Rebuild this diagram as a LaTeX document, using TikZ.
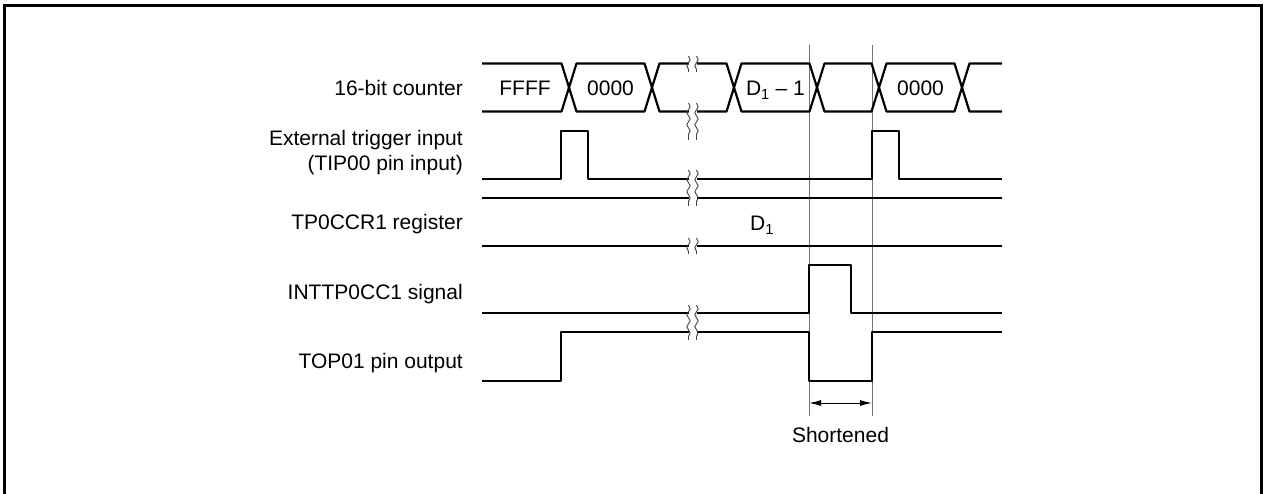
\documentclass[tikz,border=0pt]{standalone}
\usepackage{fontspec}
\setmainfont{Liberation Sans}
\usepackage{tikz}
\usetikzlibrary{arrows.meta, positioning, decorations.pathmorphing}
\tikzset{
    wave/.style={line width=2.2pt, line join=round},
    marker/.style={draw=black!55, line width=1pt},
    cut/.style={draw=black!75, line width=0.9pt, decorate, decoration={snake, amplitude=1.7pt, segment length=12pt}},
    lbl/.style={anchor=base east, inner sep=0pt, font=\fontsize{21}{26}\selectfont},
    val/.style={anchor=base, inner sep=0pt, font=\fontsize{21}{26}\selectfont}
}
\newcommand{\cutmark}[3]{%
    \fill[white] (#1-4,#2) rectangle (#1+4,#3);
    \draw[cut] (#1-4,#2) -- (#1-4,#3);
    \draw[cut] (#1+4,#2) -- (#1+4,#3);
}

\begin{document}
\begin{tikzpicture}[
    x=1pt, y=-1pt,
    dim/.style={{Latex[length=12pt,width=6pt]}-{Latex[length=12pt,width=6pt]}, line width=1pt}
]
    \useasboundingbox (0,0) rectangle (1264,494);
    \clip (0,0) rectangle (1264,494);
    \draw[line width=3pt] (4.5,5.5) rectangle (1261.5,520);

    % signal names
    \node[lbl] (cnt) at (463,96) {16-bit counter};
    \node[lbl] (trg) at (463,145.5) {External trigger input};
    \node[lbl] (trgpin) at (463,171) {(TIP00 pin input)};
    \node[lbl] (reg) at (463,230) {TP0CCR1 register};
    \node[lbl] (intp) at (463,300) {INTTP0CC1 signal};
    \node[lbl] (topo) at (463,368) {TOP01 pin output};

    % marker lines
    \coordinate (ma) at (809,45);
    \coordinate (mb) at (872,45);
    \coordinate (ea) at (809,416);
    \coordinate (eb) at (872,416);
    \draw[marker] (ma) -- (ea);
    \draw[marker] (mb) -- (eb);

    % 16-bit counter
    \draw[wave] (482,63.5) -- (561.5,63.5) -- (569,87.5) -- (561.5,111.5) -- (482,111.5);
    \foreach \a/\b in {569/652, 652/734, 734/817, 817/879, 879/962}
        \draw[wave] (\a,87.5) -- (\a+7.5,63.5) -- (\b-7.5,63.5) -- (\b,87.5) -- (\b-7.5,111.5) -- (\a+7.5,111.5) -- cycle;
    \draw[wave] (1002,63.5) -- (969.5,63.5) -- (962,87.5) -- (969.5,111.5) -- (1002,111.5);
    \node[val] (vffff) at (525,96) {FFFF};
    \node[val] (vzero) at (610.5,96) {0000};
    \node[val] (vdm) at (775.5,96) {D\textsubscript{1} – 1};
    \node[val] (vzerob) at (920.5,96) {0000};

    % trigger input
    \draw[wave] (482,179) -- (561,179) -- (561,131) -- (588,131) -- (588,179) -- (872,179) -- (872,131) -- (899,131) -- (899,179) -- (1002,179);

    % TP0CCR1
    \draw[wave] (482,198) -- (1002,198);
    \draw[wave] (482,246) -- (1002,246);
    \node[val] (vd) at (762,231) {D\textsubscript{1}};

    % INTTP0CC1
    \draw[wave] (482,313) -- (809,313) -- (809,265) -- (851,265) -- (851,313) -- (1002,313);

    % TOP01
    \draw[wave] (482,381) -- (561,381) -- (561,332) -- (809,332) -- (809,381) -- (872,381) -- (872,332) -- (1002,332);

    % breaks
    \cutmark{692.5}{56}{72}
    \cutmark{692.5}{103}{140}
    \cutmark{692.5}{170}{206}
    \cutmark{692.5}{238}{254}
    \cutmark{692.5}{305}{340}

    % shortened width
    \coordinate (aa) at (809,403);
    \coordinate (ab) at (872,403);
    \coordinate (dm) at (840.5,403);
    \draw[dim] (aa) -- (ab);
    \node[val, anchor=north, below=24pt of dm] (short) {Shortened};
\end{tikzpicture}
\end{document}
